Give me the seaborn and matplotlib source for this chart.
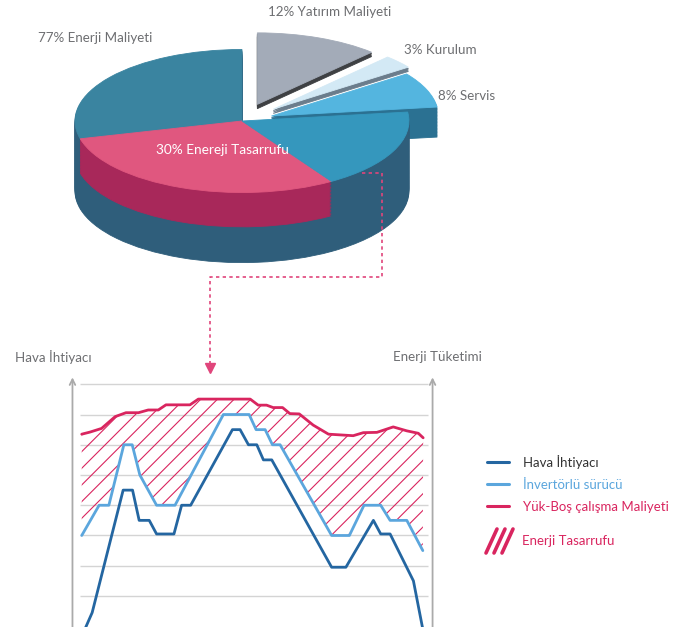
import numpy as np
import matplotlib
matplotlib.use("Agg")
import matplotlib.pyplot as plt
import seaborn as sns
from matplotlib.lines import Line2D

# pie values (percent)
energy_cost = 77
saving = 30          # drawn as a slice inside the energy cost
energy_left = 29     # energy cost part before the saving slice
invest = 12
install = 3
service = 8
pie_labels = ["77% Enerji Maliyeti", "12% Yatırım Maliyeti", "3% Kurulum", "8% Servis"]
saving_label = "30% Enereji Tasarrufu"

# line chart values (x: 0..100 across the chart, y: grid units)
hava_x = [1.4, 3.5, 12.4, 15.1, 17.0, 19.9, 22.0, 27.0, 29.2, 31.8, 43.8, 46.0, 48.4, 50.8,
          52.7, 55.1, 72.3, 76.4, 84.3, 86.4, 89.1, 95.8, 98.5]
hava_y = [-0.1, 0.45, 4.5, 4.5, 3.5, 3.5, 3.05, 3.05, 4.0, 4.0, 6.5, 6.5, 6.0, 6.0,
          5.5, 5.5, 1.95, 1.95, 3.5, 3.05, 3.05, 1.5, -0.1]
inv_x = [0.5, 5.5, 8.3, 12.6, 15.0, 17.2, 22.0, 27.3, 41.2, 48.6, 50.6, 53.2, 55.3, 57.5,
         72.3, 77.4, 81.6, 86.4, 89.1, 93.9, 98.5]
inv_y = [3.0, 4.0, 4.0, 6.0, 6.0, 5.0, 4.0, 4.0, 7.0, 7.0, 6.5, 6.5, 6.0, 6.0,
         3.0, 3.0, 4.0, 4.0, 3.5, 3.5, 2.5]
yuk_x = [0.5, 2.9, 6.2, 10.1, 13.2, 16.8, 19.6, 22.5, 24.7, 31.6, 34.0, 48.9, 51.2, 53.6,
         55.5, 58.2, 60.3, 63.0, 67.0, 71.4, 78.5, 81.4, 85.3, 90.0, 93.9, 97.2, 98.6]
yuk_y = [6.35, 6.42, 6.54, 6.93, 7.06, 7.06, 7.15, 7.15, 7.32, 7.32, 7.51, 7.51, 7.31, 7.31,
         7.23, 7.23, 7.03, 7.02, 6.65, 6.35, 6.30, 6.40, 6.41, 6.59, 6.46, 6.38, 6.23]
legend_labels = ["Hava İhtiyacı", "İnvertörlü sürücü", "Yük-Boş çalışma Maliyeti", "Enerji Tasarrufu"]

c_dark = "#2466a1"
c_light = "#5ba6dd"
c_pink = "#d9255f"
c_text = "#6d6e71"

sns.set_style("white")
plt.rcParams["font.family"] = ["Lato", "DejaVu Sans"]
plt.rcParams["hatch.linewidth"] = 0.8

W, H = 688, 627
fig = plt.figure(figsize=(W / 100, H / 100), dpi=100)


def fx(px):
    return px / W


def fy(py):
    return 1 - py / H


# ---- 3d-ish pie ----
wedge_vals = [energy_left, saving, energy_cost - energy_left - saving, service, install, invest]
top_cols = ["#3a84a0", "#e0577f", "#3597bd", "#54b5df", "#d3e9f5", "#a3abb8"]
side_cols = ["#2f5e7b", "#a8285a", "#2f5e7b", "#2b7192", "#6b7d8c", "#3e4043"]
depths = [0.98, 0.98, 0.98, 0.42, 0.07, 0.07]
explode = [0, 0, 0, 0.19, 0.25, 0.25]

ax_p = fig.add_axes([0, fy(300), 1, 300 / H])
for d in np.arange(0.98, 0, -0.02):
    cols = []
    for i, c in enumerate(side_cols):
        if d > depths[i]:
            cols.append((0, 0, 0, 0))
        elif i == 1 and d > 0.49:
            cols.append(side_cols[0])
        else:
            cols.append(c)
    ws, _ = ax_p.pie(wedge_vals, colors=cols, startangle=90, explode=explode,
                     center=(0, -d), radius=1)
    for w, c in zip(ws, cols):
        w.set_edgecolor(c)
        w.set_linewidth(0.6)
ws, _ = ax_p.pie(wedge_vals, colors=top_cols, startangle=90, explode=explode, center=(0, 0))
for w, c in zip(ws, top_cols):
    w.set_edgecolor(c)
    w.set_linewidth(0.6)
ax_p.set_aspect("auto")
ax_p.set_xlim(-1.449, 2.671)
ax_p.set_ylim(-2.503, 1.692)
ax_p.axis("off")

fig.text(fx(38), fy(38), pie_labels[0], color=c_text, fontsize=9.6, va="center")
fig.text(fx(330), fy(12), pie_labels[1], color=c_text, fontsize=9.6, va="center", ha="center")
fig.text(fx(404), fy(50), pie_labels[2], color=c_text, fontsize=9.6, va="center")
fig.text(fx(438), fy(96), pie_labels[3], color=c_text, fontsize=9.6, va="center")
fig.text(fx(222), fy(150), saving_label, color="white", fontsize=9.8, va="center", ha="center")

# dashed connector
conn_x = [362, 382, 382, 210, 210]
conn_y = [173, 173, 277, 277, 364]
fig.add_artist(Line2D([fx(v) for v in conn_x], [fy(v) for v in conn_y], color="#e0457b",
                      lw=1.2, ls=(0, (2, 2)), transform=fig.transFigure))
fig.add_artist(Line2D([fx(210)], [fy(368)], marker="v", ms=7, color="#e0457b",
                      transform=fig.transFigure))

# ---- line chart ----
ax = fig.add_axes([fx(70), 0, fx(435) - fx(70), fy(372)])
ax.hlines(range(1, 9), 0, 100, color="#d4d4d4", lw=1, zorder=1)
ax.fill(yuk_x + inv_x[::-1], yuk_y + inv_y[::-1], facecolor="none", edgecolor=c_pink,
        hatch="//", lw=0, zorder=2)
sns.lineplot(x=hava_x, y=hava_y, ax=ax, color=c_dark, lw=2, sort=False, estimator=None, zorder=4)
sns.lineplot(x=inv_x, y=inv_y, ax=ax, color=c_light, lw=2, sort=False, estimator=None, zorder=4)
sns.lineplot(x=yuk_x, y=yuk_y, ax=ax, color=c_pink, lw=2, sort=False, estimator=None, zorder=4)
for xa in (-2.16, 101.3):
    ax.annotate("", xy=(xa, 8.32), xytext=(xa, -0.2),
                arrowprops=dict(arrowstyle="->", color="#aaaaaa", lw=1.3))
ax.set_xlim(-2.87, 102.0)
ax.set_ylim(-0.026, 8.406)
ax.axis("off")

fig.text(fx(15), fy(357), "Hava İhtiyacı", color=c_text, fontsize=9.6, va="center")
fig.text(fx(393), fy(357), "Enerji Tüketimi", color=c_text, fontsize=9.6, va="center")

# legend: three lines, then a hand-drawn hatch icon
handles = [Line2D([], [], color=c_dark, lw=2.2), Line2D([], [], color=c_light, lw=2.2),
           Line2D([], [], color=c_pink, lw=2.2)]
fig.legend(handles, legend_labels[:3], loc="upper left", bbox_to_anchor=(fx(475), fy(443)),
           frameon=False, labelcolor=["#333333", c_light, c_pink], fontsize=9.5,
           handlelength=1.7, handletextpad=1.05, labelspacing=0.75)
for k in range(3):
    x0 = 486 + k * 8
    fig.add_artist(Line2D([fx(x0), fx(x0 + 11)], [fy(553), fy(529)], color=c_pink, lw=2.6,
                          transform=fig.transFigure))
fig.text(fx(522), fy(541), legend_labels[3], color=c_pink, fontsize=9.5, va="center")

fig.savefig("out.png", dpi=100)
